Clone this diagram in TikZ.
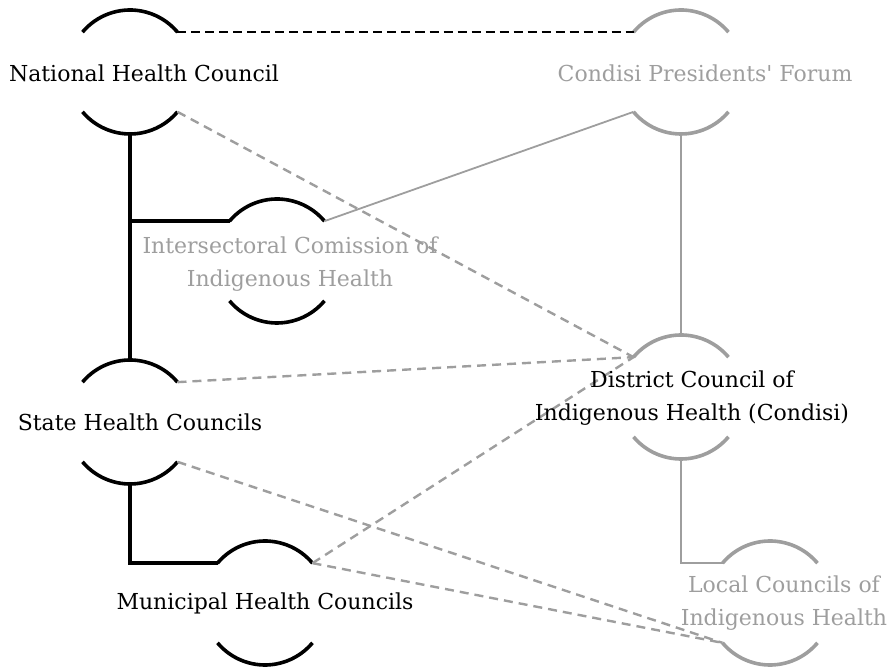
\documentclass[tikz,border=0pt]{standalone}
\usepackage{fontspec}
\setmainfont{DejaVu Serif}[Ligatures=TeXOff]
\usepackage{tikz}

\definecolor{lightgrey}{gray}{0.62}

\begin{document}
\begin{tikzpicture}[x=1pt,y=1pt,
  ring/.style={circle,minimum size=124pt,inner sep=0pt,outer sep=0pt},
  txt/.style={align=center,font=\fontsize{22}{33}\selectfont},
  firm/.style={line width=3.6pt,line join=miter},
  faint/.style={lightgrey,line width=1.8pt},
  link/.style={lightgrey,line width=2.4pt,dash pattern=on 9pt off 6pt}]

\useasboundingbox (0,0) rectangle (890,668);

% rings of the councils
\node[ring] (nhc)  at (130,596) {};
\node[ring] (cpf)  at (681,596) {};
\node[ring] (icih) at (277,407) {};
\node[ring] (shc)  at (130,246) {};
\node[ring] (dcih) at (681,271) {};
\node[ring] (mhc)  at (265,65) {};
\node[ring] (lcih) at (770,65) {};

% upper and lower arcs
\foreach \n/\c in {nhc/black,icih/black,shc/black,mhc/black,cpf/lightgrey,dcih/lightgrey,lcih/lightgrey}{
	\draw[\c,line width=3.6pt] (\n.140) arc[start angle=140,end angle=40,radius=62pt];
	\draw[\c,line width=3.6pt] (\n.220) arc[start angle=220,end angle=320,radius=62pt];
}

% national level
\draw[firm] (nhc.south) -- (shc.north);
\draw[firm] (icih.140) -- (icih.140 -| nhc.south);
\draw[line width=2.4pt,dash pattern=on 9pt off 5pt] (nhc.40) -- (cpf.140);

% indigenous side
\draw[faint] (icih.40) -- (cpf.220);
\draw[faint] (cpf.south) -- (dcih.north);
\draw[faint] (dcih.south) |- (lcih.140);

% state and municipal level
\draw[firm] (shc.south) |- (mhc.140);

% participation links
\draw[link] (nhc.-40) -- (dcih.140);
\draw[link] (shc.40) -- (dcih.140);
\draw[link] (mhc.40) -- (dcih.140);
\draw[link] (shc.-40) -- (lcih.220);
\draw[link] (mhc.40) -- (lcih.220);

% names
\node[txt] (nhct) at (144,595) {National Health Council};
\node[txt,lightgrey] (cpft) at (705,595) {Condisi Presidents' Forum};
\node[txt,lightgrey] (iciht) at (290,404) {Intersectoral Comission of\\Indigenous Health};
\node[txt] (shct) at (140,246) {State Health Councils};
\node[txt] (mhct) at (265,65) {Municipal Health Councils};
\node[txt] (dciht) at (692,270) {District Council of\\Indigenous Health (Condisi)};
\node[txt,lightgrey] (lciht) at (784,65) {Local Councils of\\Indigenous Health};

\end{tikzpicture}
\end{document}
